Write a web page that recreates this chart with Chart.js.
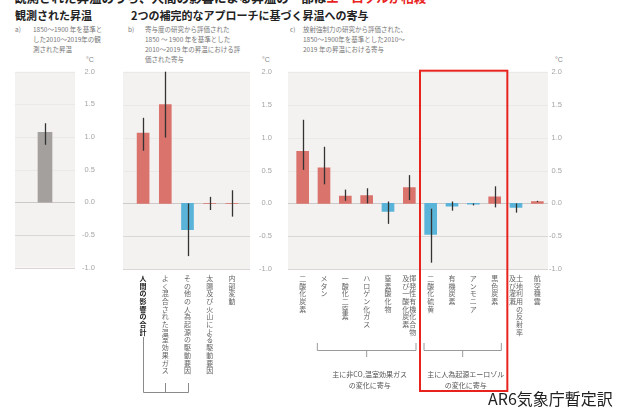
<!DOCTYPE html>
<html lang="ja">
<head>
<meta charset="utf-8">
<script src="https://cdn.jsdelivr.net/npm/chart.js@4.4.1/dist/chart.umd.min.js"></script>
<style>
  body { margin: 0; width: 624px; height: 409px; overflow: hidden; position: relative; background: #fff;
         font-family: "Noto Sans CJK JP", "Noto Sans", sans-serif; }
  canvas { position: absolute; }
  .t { position: absolute; white-space: nowrap; color: #222; }
  .lead { font-size: 12.5px; font-weight: bold; line-height: 16px; }
  .lead span { color: #e8231e; }
  .h { font-size: 11px; font-weight: bold; line-height: 16px; }
  .sub { font-size: 6.5px; line-height: 10px; color: #777; }
  .unit { font-size: 7px; color: #888; font-family: "Liberation Sans", sans-serif; }
  .credit { font-size: 16px; line-height: 18px; color: #222; }
</style>
</head>
<body>
<div class="t lead" style="left:14px;top:-10px;">観測された昇温のうち、人間の影響による昇温の一部は<span>エーロゾルが相殺</span></div>

<div class="t h" style="left:15px;top:7px;">観測された昇温</div>
<div class="t h" style="left:131px;top:7px;">2つの補完的なアプローチに基づく昇温への寄与</div>

<div class="t sub" style="left:15px;top:24px;">a)</div>
<div class="t sub" style="left:33px;top:24px;">1850～1900 年を基準と<br>した2010～2019年の観<br>測された昇温</div>
<div class="t sub" style="left:128px;top:24px;">b)</div>
<div class="t sub" style="left:145px;top:24px;">寄与度の研究から評価された<br>1850 ～ 1900 年を基準とした<br>2010～2019 年の昇温における評<br>価された寄与</div>
<div class="t sub" style="left:290px;top:24px;">c)</div>
<div class="t sub" style="left:303px;top:24px;">放射強制力の研究から評価された、<br>1850～1900年を基準とした2010～<br>2019 年の昇温における寄与</div>

<div class="t unit" style="left:86px;top:56px;">°C</div>
<div class="t unit" style="left:262px;top:56px;">°C</div>
<div class="t unit" style="left:555px;top:56px;">°C</div>

<canvas id="observed" width="110" height="215" style="left:0;top:60px;"></canvas>
<canvas id="attribution" width="175" height="340" style="left:110px;top:60px;"></canvas>
<canvas id="forcing" width="300" height="340" style="left:280px;top:60px;"></canvas>

<div class="t credit" style="left:488px;top:389px;">AR6気象庁暫定訳</div>

<script>
// temperature axis, °C
const yTicks = [-1.0, -0.5, 0.0, 0.5, 1.0, 1.5, 2.0];

// a) observed warming 2010-2019 vs 1850-1900
const observedLabels = ['観測された昇温'];
const observedValues = [1.07];
const observedLow = [0.88];
const observedHigh = [1.21];

// b) attribution studies
const attributionLabels = ['人間の影響の合計', 'よく混合された温室効果ガス', 'その他の人為起源の駆動要因',
    '太陽及び火山による駆動要因', '内部変動'];
const attributionValues = [1.07, 1.5, -0.4, 0.0, 0.0];
const attributionLow = [0.8, 1.0, -0.8, -0.1, -0.2];
const attributionHigh = [1.3, 2.0, 0.0, 0.1, 0.2];

// c) radiative forcing studies ("|" splits a label into two vertical columns)
const forcingLabels = ['二酸化炭素', 'メタン', '一酸化二窒素', 'ハロゲン化ガス', '窒素酸化物',
    '揮発性有機化合物|及び一酸化炭素', '二酸化硫黄', '有機炭素', 'アンモニア', '黒色炭素',
    '土地利用の反射率|及び灌漑', '航空機雲'];
const forcingValues = [0.79, 0.54, 0.11, 0.12, -0.12, 0.24, -0.47, -0.04, -0.01, 0.1, -0.06, 0.03];
const forcingLow = [0.51, 0.29, 0.04, 0.0, -0.31, 0.05, -0.9, -0.11, -0.03, -0.06, -0.14, 0.02];
const forcingHigh = [1.27, 0.86, 0.21, 0.23, 0.03, 0.43, -0.08, 0.03, 0.0, 0.26, 0.0, 0.04];

const warmColor = '#d9736c';
const coolColor = '#5ab4d9';
const observedColor = '#a3a09e';
const panelColor = '#f4f2f0';

// stack characters so the label reads top to bottom; first column sits on the right
function stack(label) {
    const cols = label.split('|').map((c) => Array.from(c)).reverse();
    const n = Math.max(...cols.map((c) => c.length));
    const lines = [];
    for (let i = 0; i < n; i++) {
        lines.push(cols.map((c) => c[i] || '\u3000').join(''));
    }
    return lines;
}

const signColors = (values) => values.map((v) => (v < 0 ? coolColor : warmColor));

// panel background, reference lines and whiskers
const panelBox = {
    id: 'panelBox',
    defaults: { padLeft: 0, padRight: 0 },
    beforeDatasetsDraw(chart, args, opts) {
        const { ctx, chartArea: a, scales: { y } } = chart;
        const l = a.left - opts.padLeft;
        const r = a.right + opts.padRight;
        ctx.save();
        ctx.fillStyle = panelColor;
        ctx.fillRect(l, a.top, r - l, a.bottom - a.top);
        ctx.lineWidth = 1;
        yTicks.forEach((v) => {
            const py = Math.round(y.getPixelForValue(v)) + 0.5;
            ctx.strokeStyle = v === 0 ? '#cdc9c8' : v < 0 ? '#d9d6d5' : '#ebe8e6';
            ctx.beginPath();
            ctx.moveTo(l, py);
            ctx.lineTo(r, py);
            ctx.stroke();
        });
        ctx.restore();
    },
    afterDatasetsDraw(chart) {
        const { ctx, scales: { x, y } } = chart;
        const ds = chart.data.datasets[0];
        ctx.save();
        ctx.strokeStyle = '#333';
        ctx.lineWidth = 1.3;
        ds.low.forEach((lo, i) => {
            const px = Math.round(x.getPixelForValue(i)) + 0.5;
            ctx.beginPath();
            ctx.moveTo(px, y.getPixelForValue(lo));
            ctx.lineTo(px, y.getPixelForValue(ds.high[i]));
            ctx.stroke();
        });
        ctx.restore();
    },
};

const tickFont = { size: 7.5, family: 'Liberation Sans' };
const labelFont = { size: 7, family: 'Noto Sans CJK JP', lineHeight: 1.1 };

// labels are right-aligned against the outer edge of the axis box
function yScale(width) {
    return {
        position: 'right',
        min: -1,
        max: 2,
        grid: { display: false, drawTicks: false },
        border: { display: false },
        afterBuildTicks: (s) => {
            s.ticks = yTicks.map((v) => ({ value: v }));
        },
        ticks: {
            autoSkip: false,
            crossAlign: 'far',
            color: '#a6a6a6',
            font: tickFont,
            callback: (v) => v.toFixed(1),
        },
        afterFit: (s) => {
            s.width = width;
        },
    };
}

function xScale(show) {
    const scale = {
        display: show,
        grid: { display: false, drawTicks: false },
        border: { display: false },
        ticks: {
            autoSkip: false,
            maxRotation: 0,
            minRotation: 0,
            padding: 5,
            color: (c) => (c.index === 0 && c.chart.canvas.id === 'attribution' ? '#222' : '#666'),
            font: (c) => ({
                ...labelFont,
                weight: c.index === 0 && c.chart.canvas.id === 'attribution' ? 'bold' : 'normal',
            }),
        },
    };
    if (show) {
        scale.afterFit = (s) => {
            s.height = 130.7;
        };
    }
    return scale;
}

function barChart(id, labels, values, low, high, colors, thickness, padding, yWidth, box, extra) {
    return new Chart(document.getElementById(id), {
        type: 'bar',
        data: {
            labels: labels,
            datasets: [{
                data: values,
                low: low,
                high: high,
                backgroundColor: colors,
                borderWidth: 0,
                barThickness: thickness,
            }],
        },
        options: {
            responsive: false,
            animation: false,
            layout: { padding: padding },
            plugins: {
                legend: { display: false },
                tooltip: { enabled: false },
                panelBox: box,
            },
            scales: {
                x: xScale(id !== 'observed'),
                y: yScale(yWidth),
            },
        },
        plugins: [panelBox].concat(extra || []),
    });
}

// bracket under panel b: total = greenhouse gases + other human drivers
const totalBracket = {
    id: 'totalBracket',
    afterDraw(chart) {
        const { ctx, scales: { x } } = chart;
        const p = (i) => Math.round(x.getPixelForValue(i)) + 0.5;
        ctx.save();
        ctx.strokeStyle = '#8a8a8a';
        ctx.lineWidth = 1;
        ctx.beginPath();
        ctx.moveTo(p(0), 277);
        ctx.lineTo(p(0), 332.5);
        ctx.lineTo(p(2), 332.5);
        ctx.lineTo(p(2), 323);
        ctx.moveTo(p(1), 332.5);
        ctx.lineTo(p(1), 323);
        ctx.stroke();
        ctx.restore();
    },
};

// group brackets and the highlight frame round the aerosol precursors
const forcingGroups = {
    id: 'forcingGroups',
    afterDraw(chart) {
        const { ctx, chartArea: a, scales: { x } } = chart;
        const half = (x.getPixelForValue(1) - x.getPixelForValue(0)) / 2;
        const bracket = (from, to, lines) => {
            const l = x.getPixelForValue(from) - half + 4;
            const r = x.getPixelForValue(to) + half - 4;
            const m = (l + r) / 2;
            ctx.strokeStyle = '#9a9a9a';
            ctx.lineWidth = 1;
            ctx.beginPath();
            ctx.moveTo(l, 283);
            ctx.lineTo(l, 290.5);
            ctx.lineTo(r, 290.5);
            ctx.lineTo(r, 283);
            ctx.moveTo(m, 290.5);
            ctx.lineTo(m, 297);
            ctx.stroke();
            ctx.fillStyle = '#555';
            ctx.font = '7px "Noto Sans CJK JP"';
            ctx.textAlign = 'center';
            ctx.textBaseline = 'middle';
            lines.forEach((t, k) => ctx.fillText(t, m + 3, 314 + k * 11));
        };
        ctx.save();
        bracket(1, 5, ['主に非CO₂温室効果ガス', 'の変化に寄与']);
        bracket(6, 9, ['主に人為起源エーロゾル', 'の変化に寄与']);
        const l = x.getPixelForValue(6) - half;
        const r = x.getPixelForValue(9) + half + 2;
        ctx.strokeStyle = '#e8231e';
        ctx.lineWidth = 2;
        ctx.strokeRect(l, a.top - 1, r - l, chart.height - 8 - a.top);
        ctx.restore();
    },
};

barChart('observed', observedLabels, observedValues, observedLow, observedHigh, [observedColor], 14,
    { left: 15, right: 15, top: 11.7, bottom: 5.7 }, 20, {});

barChart('attribution', attributionLabels.map(stack), attributionValues, attributionLow, attributionHigh,
    signColors(attributionValues), 12, { left: 22, right: 13, top: 11.7 }, 29,
    { padLeft: 9, padRight: 7 }, [totalBracket]);

barChart('forcing', forcingLabels.map(stack), forcingValues, forcingLow, forcingHigh,
    signColors(forcingValues), 12, { left: 12, right: 18, top: 11.7 }, 14,
    { padLeft: 4, padRight: 0 }, [forcingGroups]);
</script>
</body>
</html>
